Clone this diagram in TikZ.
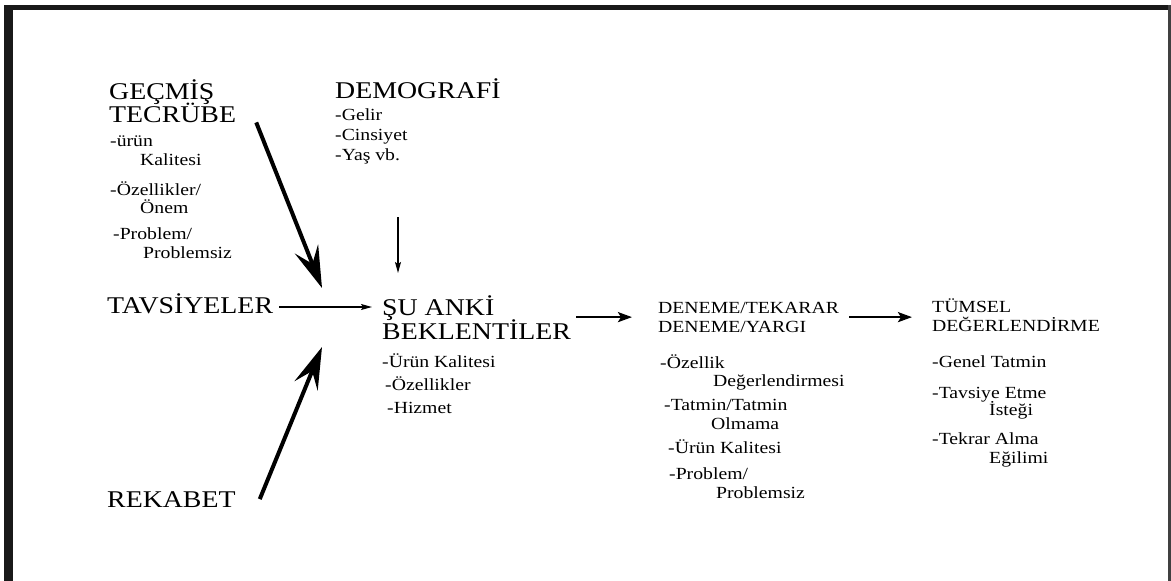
\documentclass[tikz,border=0pt]{standalone}
\usepackage{fontspec}
\setmainfont[FakeStretch=1.16]{Liberation Serif}
\usetikzlibrary{positioning,arrows.meta}

\newcommand{\tightlines}{\lineskiplimit=-30pt\relax}
\newcommand{\headfont}{\fontsize{24}{22.5}\selectfont\tightlines}
\newcommand{\itemfont}{\fontsize{17}{18}\selectfont\tightlines}

\begin{document}
\begin{tikzpicture}[x=1pt, y=-1pt,
  head/.style={anchor=base west, inner sep=0pt, align=left, font=\headfont},
  item/.style={anchor=base west, inner sep=0pt, align=left, font=\itemfont},
  bigarr/.style={-{Stealth[length=42pt, width=25pt, inset=16pt]}, line width=4pt},
  midarr/.style={-{Stealth[length=14pt, width=10pt, inset=3pt]}, line width=2.4pt},
  thinarr/.style={-{Stealth[length=11pt, width=6pt, inset=2pt]}, line width=1.3pt}]
\useasboundingbox (0,0) rectangle (1171,581);
% frame
\fill[black!90] (4,5) rectangle (1171,10);
\fill[black!90] (4,5) rectangle (13,581);
\fill[black!75] (1168,5) rectangle (1170.5,581);

% left column (nodes sit on their last baseline)
\node[head] (gecmis) at (109,122) {GEÇMİŞ\\TECRÜBE};
\node[item] (urun) at (110,165) {-ürün\\[1pt]\hspace*{30pt}Kalitesi};
\node[item] (ozel) at (110,213) {-Özellikler/\\\hspace*{30pt}Önem};
\node[item] (prob) at (113,258) {-Problem/\\[1pt]\hspace*{30pt}Problemsiz};
\node[head] (tavsiye) at (107,313) {TAVSİYELER};
\node[head] (rekabet) at (107,507) {REKABET};

% demografi
\node[head] (demo) at (335,98) {DEMOGRAFİ};
\node[item, font=\fontsize{17}{20}\selectfont] (demolist) at (335,160) {-Gelir\\-Cinsiyet\\-Yaş vb.};

% current expectations
\node[head] (suanki) at (382,339) {ŞU ANKİ\\[1.5pt]BEKLENTİLER};
\node[item, font=\fontsize{17}{23}\selectfont] (sulist) at (382,413)
  {-Ürün Kalitesi\\\hspace*{3pt}-Özellikler\\\hspace*{5pt}-Hizmet};

% trial / judgement
\node[item, font=\fontsize{17}{19}\selectfont] (deneme) at (658,332) {DENEME/TEKARAR\\DENEME/YARGI};
\node[item] (dozel) at (660,386) {-Özellik\\\hspace*{53pt}Değerlendirmesi};
\node[item] (dtat) at (664,429) {-Tatmin/Tatmin\\[1pt]\hspace*{47pt}Olmama};
\node[item] (durun) at (668,453) {-Ürün Kalitesi};
\node[item] (dprob) at (669,498) {-Problem/\\[1pt]\hspace*{47pt}Problemsiz};

% overall evaluation
\node[item, font=\fontsize{17}{19}\selectfont] (tumsel) at (932,331) {TÜMSEL\\DEĞERLENDİRME};
\node[item] (genel) at (932,367) {-Genel Tatmin};
\node[item] (tavs) at (932,415) {-Tavsiye Etme\\[-1pt]\hspace*{57pt}İsteği};
\node[item] (tekrar) at (932,463) {-Tekrar Alma\\[1pt]\hspace*{57pt}Eğilimi};

% arrows
\coordinate (gtip) at ([shift={(-60,-51)}]suanki.base west);
\coordinate (rtip) at ([shift={(-60,8)}]suanki.base west);
\coordinate (dfrom) at ([shift={(16,-122)}]suanki.base west);
\draw[bigarr] ([xshift=20pt]gecmis.south east) -- (gtip);
\draw[bigarr] ([xshift=24pt]rekabet.east) -- (rtip);
\draw[thinarr] ([xshift=6pt, yshift=6pt]tavsiye.base east) -- ([xshift=-10pt, yshift=6pt]tavsiye.base east -| suanki.west);
\draw[thinarr] (dfrom) -- ([yshift=22pt]suanki.north -| dfrom);
\draw[midarr] ([xshift=5pt]suanki.east) -- ([xshift=-26pt]suanki.east -| deneme.west);
\draw[midarr] ([xshift=10pt]suanki.east -| deneme.east) -- ([xshift=-20pt]suanki.east -| tumsel.west);
\end{tikzpicture}
\end{document}
